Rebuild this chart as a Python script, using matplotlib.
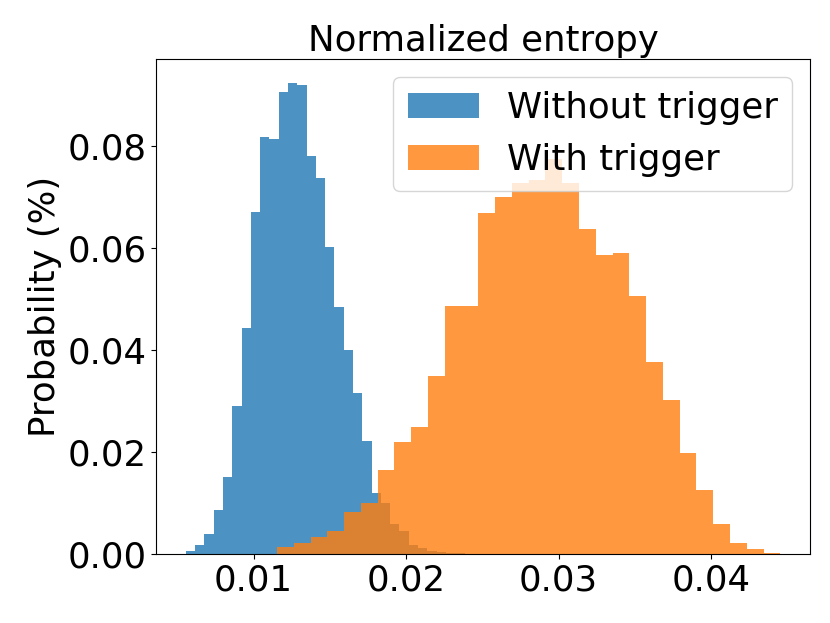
import matplotlib
matplotlib.use('Agg')
import matplotlib.pyplot as plt
import numpy as np

# bin ranges (30 bins each)
blue_range = (0.00556, 0.02383)
orange_range = (0.01154, 0.04453)

without_trigger = [0.0005, 0.0018, 0.0039, 0.0086, 0.0151, 0.0289, 0.0443, 0.0671,
                   0.0818, 0.0814, 0.0905, 0.0924, 0.0920, 0.0780, 0.0737, 0.0601,
                   0.0485, 0.0399, 0.0315, 0.0222, 0.0120, 0.0100, 0.0059, 0.0045,
                   0.0018, 0.0011, 0.0006, 0.0004, 0.0002, 0.0001]

with_trigger = [0.0014, 0.0022, 0.0033, 0.0044, 0.0083, 0.0100, 0.0165, 0.0219,
                0.0248, 0.0348, 0.0487, 0.0486, 0.0668, 0.0700, 0.0728, 0.0733,
                0.0775, 0.0728, 0.0637, 0.0586, 0.0590, 0.0505, 0.0376, 0.0301,
                0.0197, 0.0125, 0.0059, 0.0022, 0.0009, 0.0002]

plt.rcParams['font.size'] = 25.6

fig, ax = plt.subplots(figsize=(8.3, 6.23), dpi=100)
fig.subplots_adjust(left=0.188, right=0.976, top=0.905, bottom=0.111)

for heights, rng, label in [(without_trigger, blue_range, 'Without trigger'),
                            (with_trigger, orange_range, 'With trigger')]:
    edges = np.linspace(rng[0], rng[1], len(heights) + 1)
    centers = (edges[:-1] + edges[1:]) / 2
    ax.hist(centers, bins=edges, weights=heights, alpha=0.8, label=label)

ax.set_title('Normalized entropy', fontsize=25.6)
ax.set_ylabel('Probability (%)')
ax.legend(loc='upper right')

fig.savefig('out.png')
